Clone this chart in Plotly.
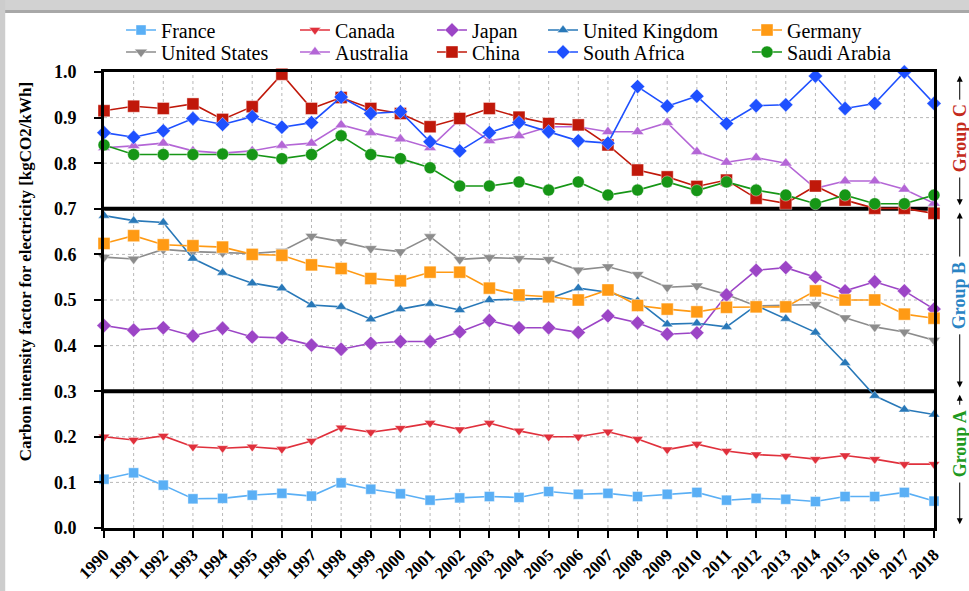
import plotly.graph_objects as go

years = list(range(1990, 2019))
year_labels = [str(y) for y in years]

france = [0.107, 0.121, 0.094, 0.064, 0.065, 0.072, 0.076, 0.070, 0.099, 0.085,
          0.075, 0.061, 0.066, 0.069, 0.067, 0.080, 0.074, 0.076, 0.069, 0.074,
          0.078, 0.061, 0.065, 0.063, 0.058, 0.069, 0.069, 0.078, 0.059]
canada = [0.200, 0.193, 0.202, 0.178, 0.175, 0.178, 0.173, 0.191, 0.220, 0.210,
          0.219, 0.230, 0.216, 0.230, 0.213, 0.200, 0.200, 0.211, 0.195, 0.172,
          0.184, 0.169, 0.161, 0.158, 0.151, 0.159, 0.151, 0.140, 0.140]
japan = [0.444, 0.434, 0.439, 0.421, 0.438, 0.419, 0.417, 0.401, 0.392, 0.405,
         0.409, 0.409, 0.430, 0.455, 0.439, 0.439, 0.429, 0.465, 0.450, 0.425,
         0.428, 0.511, 0.565, 0.571, 0.550, 0.520, 0.540, 0.520, 0.480]
uk = [0.685, 0.674, 0.670, 0.591, 0.560, 0.537, 0.526, 0.489, 0.485, 0.458,
      0.480, 0.492, 0.478, 0.500, 0.502, 0.503, 0.526, 0.517, 0.498, 0.447,
      0.449, 0.441, 0.488, 0.459, 0.429, 0.362, 0.290, 0.260, 0.249]
germany = [0.624, 0.641, 0.621, 0.619, 0.616, 0.600, 0.598, 0.577, 0.569, 0.547,
           0.542, 0.561, 0.561, 0.526, 0.511, 0.507, 0.500, 0.522, 0.488, 0.480,
           0.474, 0.484, 0.485, 0.485, 0.520, 0.500, 0.500, 0.469, 0.460]
usa = [0.594, 0.590, 0.611, 0.606, 0.604, 0.602, 0.607, 0.640, 0.628, 0.613,
       0.606, 0.639, 0.589, 0.593, 0.591, 0.589, 0.566, 0.573, 0.556, 0.528,
       0.531, 0.512, 0.487, 0.488, 0.490, 0.461, 0.441, 0.430, 0.412]
australia = [0.834, 0.838, 0.844, 0.827, 0.822, 0.827, 0.839, 0.844, 0.884, 0.867,
             0.853, 0.834, 0.896, 0.849, 0.860, 0.880, 0.880, 0.869, 0.869, 0.889,
             0.825, 0.802, 0.812, 0.800, 0.745, 0.761, 0.761, 0.743, 0.712]
china = [0.915, 0.925, 0.920, 0.930, 0.896, 0.924, 0.995, 0.920, 0.944, 0.920,
         0.909, 0.880, 0.898, 0.920, 0.901, 0.887, 0.884, 0.840, 0.785, 0.770,
         0.749, 0.763, 0.723, 0.712, 0.750, 0.719, 0.701, 0.701, 0.690]
south_africa = [0.867, 0.857, 0.871, 0.898, 0.885, 0.902, 0.879, 0.889, 0.945, 0.909,
                0.913, 0.847, 0.827, 0.867, 0.889, 0.869, 0.849, 0.844, 0.968, 0.925,
                0.947, 0.887, 0.926, 0.928, 0.991, 0.920, 0.931, 1.000, 0.931]
saudi = [0.840, 0.819, 0.819, 0.819, 0.820, 0.819, 0.810, 0.819, 0.860, 0.819,
         0.810, 0.790, 0.750, 0.750, 0.759, 0.741, 0.759, 0.730, 0.741, 0.759,
         0.740, 0.759, 0.741, 0.730, 0.711, 0.730, 0.711, 0.711, 0.730]

y_ticks = [round(0.1 * i, 1) for i in range(11)]
y_tick_labels = [f"{v:.1f}" for v in y_ticks]
group_names = ["Group A", "Group B", "Group C"]
group_bounds = [0.0, 0.3, 0.7, 1.0]
group_centers = [0.185, 0.51, 0.854]
group_colors = ["#1f9a1f", "#2a84c4", "#c42a1c"]

FONT = "Liberation Serif"

# legend placement in container fractions (columns x, rows y)
col_x = [0.1249, 0.3044, 0.4458, 0.5604, 0.7709]
row_y = [0.9822, 0.9450]

# (name, values, colour, symbol, size, column, row)
series = [
    ("France", france, "#5aaff5", "square", 10, 0, 0),
    ("United States", usa, "#8c8c8c", "triangle-down", 11, 0, 1),
    ("Canada", canada, "#e0303c", "triangle-down", 10, 1, 0),
    ("Australia", australia, "#b466d6", "triangle-up", 11, 1, 1),
    ("Japan", japan, "#9c45c6", "diamond", 11, 2, 0),
    ("China", china, "#c0180a", "square", 12, 2, 1),
    ("United Kingdom", uk, "#2878b8", "triangle-up", 10, 3, 0),
    ("South Africa", south_africa, "#1e50ff", "diamond", 11, 3, 1),
    ("Germany", germany, "#ff9a14", "square", 12, 4, 0),
    ("Saudi Arabia", saudi, "#169616", "circle", 12, 4, 1),
]

fig = go.Figure()
legend_layouts = {}
for i, (name, vals, color, sym, size, col, row) in enumerate(series):
    key = "legend" if i == 0 else f"legend{i + 1}"
    fig.add_trace(go.Scatter(
        x=years, y=vals, name=name, mode="lines+markers",
        line=dict(color=color, width=1.6),
        marker=dict(symbol=sym, size=size, color=color,
                    line=dict(width=0.8, color="rgba(255,255,255,0.5)")),
        legend=key, showlegend=True, cliponaxis=False,
    ))
    legend_layouts[key] = dict(x=col_x[col], y=row_y[row], xref="container", yref="container",
                               xanchor="left", yanchor="top",
                               bgcolor="rgba(0,0,0,0)", visible=True,
                               font=dict(family=FONT, size=20, color="black"))

axis_common = dict(
    showline=True, linewidth=3, linecolor="black", mirror=True,
    ticks="outside", ticklen=7, tickwidth=2, tickcolor="black",
    showgrid=False, zeroline=False, automargin=False,
)

fig.update_xaxes(range=[1990, 2018], tickvals=years, ticktext=year_labels,
                 tickangle=-45,
                 tickfont=dict(family=FONT, size=17, color="black", weight="bold"),
                 **axis_common)
fig.update_yaxes(range=[0, 1.0], tickvals=y_ticks, ticktext=y_tick_labels,
                 ticklabelstandoff=14,
                 tickfont=dict(family=FONT, size=18, color="black", weight="bold"),
                 **axis_common)

fig.update_layout(
    width=969, height=591,
    margin=dict(l=104, r=35, t=72, b=63, autoexpand=False),
    paper_bgcolor="white", plot_bgcolor="white",
    font=dict(family=FONT, size=18, color="black"),
    showlegend=True,
    **legend_layouts,
)

# dotted grid
grid_line = dict(color="#b8b8b8", width=1, dash="dot")
for yr in years[1:-1]:
    fig.add_shape(type="line", xref="x", yref="paper", x0=yr, x1=yr, y0=0, y1=1,
                  line=grid_line, layer="below")
for v in y_ticks[1:-1]:
    fig.add_shape(type="line", xref="paper", yref="y", x0=0, x1=1, y0=v, y1=v,
                  line=grid_line, layer="below")

# group boundary lines
for b in group_bounds[1:-1]:
    fig.add_shape(type="line", xref="paper", x0=0, x1=1, yref="y", y0=b, y1=b,
                  line=dict(color="black", width=4), layer="below")

# card frame decoration
fig.add_shape(type="rect", xref="paper", yref="paper", x0=-0.13, x1=1.05,
              y0=1 + (72 - 11) / 456, y1=1.2, fillcolor="#d2d2d2", line_width=0, layer="below")
fig.add_shape(type="rect", xref="paper", yref="paper", x0=-0.13, x1=1.05,
              y0=1 + (72 - 13) / 456, y1=1 + (72 - 10) / 456, fillcolor="#a8a8a8", line_width=0, layer="below")
fig.add_shape(type="rect", xref="paper", yref="paper", x0=-0.13, x1=-0.119,
              y0=-0.2, y1=1.2, fillcolor="#cdcdcd", line_width=0, layer="below")

# y title
fig.add_annotation(xref="paper", yref="paper", x=-0.095, y=0.561, showarrow=False,
                   xanchor="center", yanchor="middle",
                   text="Carbon intensity factor for electricity [kgCO2/kWh]",
                   textangle=-90, font=dict(family=FONT, size=17, color="black", weight="bold"))

# group labels with arrows
gx = 1.031
half = 0.082
for name, lo, hi, c, col in zip(group_names, group_bounds[:-1], group_bounds[1:], group_centers, group_colors):
    fig.add_annotation(xref="paper", yref="y", x=gx, y=c, showarrow=False, text=name,
                       xanchor="center", yanchor="middle",
                       textangle=-90, font=dict(family=FONT, size=18, color=col, weight="bold"))
    fig.add_annotation(xref="paper", yref="y", x=gx, y=hi - 0.008, ax=0, axref="pixel",
                       ay=c + half, ayref="y", showarrow=True, text="",
                       arrowhead=2, arrowwidth=1, arrowsize=1.2, arrowcolor="black")
    fig.add_annotation(xref="paper", yref="y", x=gx, y=lo + 0.008, ax=0, axref="pixel",
                       ay=c - half, ayref="y", showarrow=True, text="",
                       arrowhead=2, arrowwidth=1, arrowsize=1.2, arrowcolor="black")

fig.write_html("out.html", config={"displayModeBar": False},
               post_script="document.body.style.margin='0';document.body.style.overflow='hidden';")
